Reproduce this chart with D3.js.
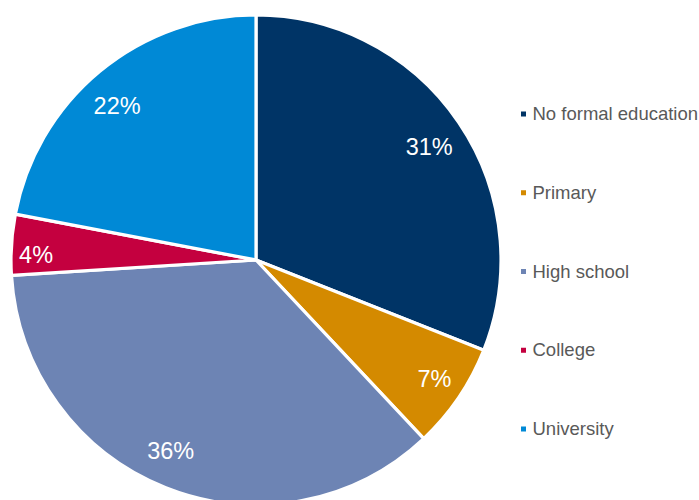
<!DOCTYPE html>
<html>
<head>
<meta charset="utf-8">
<script src="https://cdn.jsdelivr.net/npm/d3@7"></script>
<style>
  html, body { margin: 0; padding: 0; background: #fff; }
  svg { display: block; }
</style>
</head>
<body>
<svg id="chart" width="699" height="500"></svg>
<script>
// Share of respondents by education level
const categories = ["No formal education", "Primary", "High school", "College", "University"];
const shares = [31, 7, 36, 4, 22];
const colors = ["#003466", "#D48A00", "#6D84B4", "#C4003F", "#0089D6"];

const svg = d3.select("#chart");
const cx = 256, cy = 260, radius = 245;
// label placement: distance from the centre and a small angular nudge (degrees) per slice
const labelRadii = [207, 214, 209, 220, 208];
const labelNudge = [1, -0.7, 2.5, -2.2, -2.3];
const labelFont = 23.5;
const legendFont = 18.5;

const pie = d3.pie().sort(null).value(d => d.value);
const arc = d3.arc().innerRadius(0).outerRadius(radius);

const data = categories.map((c, i) => ({ name: c, value: shares[i], color: colors[i] }));
const arcs = pie(data);

const g = svg.append("g").attr("transform", `translate(${cx},${cy})`);

g.selectAll("path.slice")
  .data(arcs)
  .join("path")
  .attr("class", "slice")
  .attr("d", arc)
  .attr("fill", d => d.data.color)
  .attr("stroke", "#fff")
  .attr("stroke-width", 3.2)
  .attr("stroke-linejoin", "round");

g.selectAll("text.pct")
  .data(arcs)
  .join("text")
  .attr("class", "pct")
  .attr("transform", (d, i) => {
    const a = (d.startAngle + d.endAngle) / 2 + labelNudge[i] * Math.PI / 180;
    const r = labelRadii[i];
    return `translate(${r * Math.sin(a)},${-r * Math.cos(a)})`;
  })
  .attr("text-anchor", "middle")
  .attr("dy", labelFont * 0.358)
  .attr("font-family", "'Liberation Sans', Arial, sans-serif")
  .attr("font-size", labelFont)
  .attr("fill", "#fff")
  .text(d => `${d.data.value}%`);

// Legend
const legendY = d3.scalePoint().domain(categories).range([113.5, 428.5]);
const legend = svg.append("g");
const item = legend.selectAll("g")
  .data(data)
  .join("g")
  .attr("transform", d => `translate(521,${legendY(d.name)})`);

item.append("rect")
  .attr("x", 0).attr("y", -2)
  .attr("width", 5).attr("height", 5)
  .attr("fill", d => d.color);

item.append("text")
  .attr("x", 11.5)
  .attr("dy", legendFont * 0.358)
  .attr("font-family", "'Liberation Sans', Arial, sans-serif")
  .attr("font-size", legendFont)
  .attr("fill", "#595959")
  .text(d => d.name);
</script>
</body>
</html>
